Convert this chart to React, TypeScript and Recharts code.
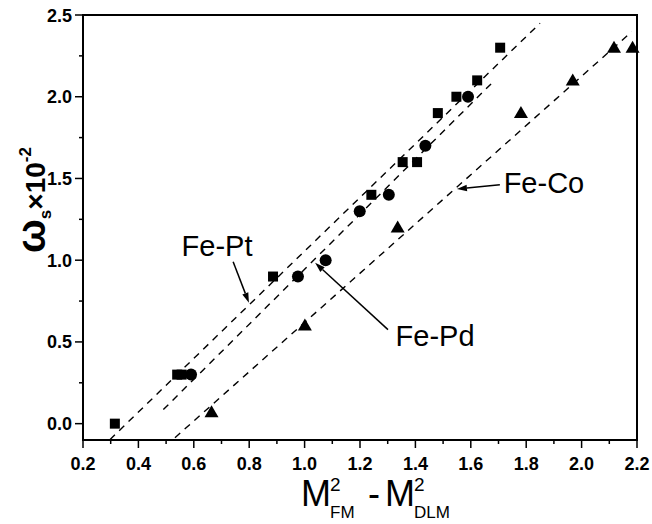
import {
  ReferenceArea,
  ReferenceDot,
  ReferenceLine,
  Scatter,
  ScatterChart,
  XAxis,
  YAxis,
} from "recharts";

const fePt = [
  { x: 0.315, y: 0.0 },
  { x: 0.54, y: 0.3 },
  { x: 0.556, y: 0.3 },
  { x: 0.886, y: 0.9 },
  { x: 1.241, y: 1.4 },
  { x: 1.354, y: 1.6 },
  { x: 1.406, y: 1.6 },
  { x: 1.481, y: 1.9 },
  { x: 1.548, y: 2.0 },
  { x: 1.623, y: 2.1 },
  { x: 1.706, y: 2.3 },
];

const fePd = [
  { x: 0.59, y: 0.3 },
  { x: 0.976, y: 0.9 },
  { x: 1.076, y: 1.0 },
  { x: 1.199, y: 1.3 },
  { x: 1.304, y: 1.4 },
  { x: 1.436, y: 1.7 },
  { x: 1.59, y: 2.0 },
];

const feCo = [
  { x: 0.664, y: 0.07 },
  { x: 1.001, y: 0.6 },
  { x: 1.336, y: 1.2 },
  { x: 1.781, y: 1.9 },
  { x: 1.968, y: 2.1 },
  { x: 2.117, y: 2.3 },
  { x: 2.184, y: 2.3 },
];

// dashed fit lines (end points)
const fitPt = [
  { x: 0.297, y: -0.098 },
  { x: 1.85, y: 2.45 },
];
const fitPd = [
  { x: 0.49, y: 0.086 },
  { x: 1.68, y: 2.09 },
];
const fitCo = [
  { x: 0.532, y: -0.086 },
  { x: 2.181, y: 2.398 },
];

// annotation labels and arrows
const labelNames = ["Fe-Pt", "Fe-Pd", "Fe-Co"];
const labelAt = [
  { x: 0.684, y: 1.027 },
  { x: 1.471, y: 0.477 },
  { x: 1.864, y: 1.412 },
];
const arrowFrom = [
  { x: 0.742, y: 0.99 },
  { x: 1.301, y: 0.575 },
  { x: 1.705, y: 1.461 },
];
const arrowTo = [
  { x: 0.799, y: 0.74 },
  { x: 1.038, y: 0.984 },
  { x: 1.55, y: 1.436 },
];

const xMajor = [0.2, 0.4, 0.6, 0.8, 1.0, 1.2, 1.4, 1.6, 1.8, 2.0, 2.2];
const xMinor = [0.3, 0.5, 0.7, 0.9, 1.1, 1.3, 1.5, 1.7, 1.9, 2.1];
const yMajor = [0.0, 0.5, 1.0, 1.5, 2.0, 2.5];
const yMinor = [0.25, 0.75, 1.25, 1.75, 2.25];

const FONT = "'Liberation Sans', Arial, sans-serif";

const XTick = (props: any) => {
  const { x, y, payload } = props;
  const major = xMajor.some((v) => Math.abs(v - payload.value) < 1e-6);
  return (
    <g>
      <line x1={x} x2={x} y1={y} y2={y + (major ? 8 : 4)} stroke="#000" strokeWidth={1.5} />
      {major && (
        <text x={x} y={y + 30} textAnchor="middle" fontFamily={FONT} fontWeight="bold" fontSize={18} fill="#000">
          {payload.value.toFixed(1)}
        </text>
      )}
    </g>
  );
};

const YTick = (props: any) => {
  const { x, y, payload } = props;
  const major = yMajor.some((v) => Math.abs(v - payload.value) < 1e-6);
  return (
    <g>
      <line x1={x} x2={x - (major ? 8 : 4)} y1={y} y2={y} stroke="#000" strokeWidth={1.5} />
      {major && (
        <text x={x - 11} y={y + 6.5} textAnchor="end" fontFamily={FONT} fontWeight="bold" fontSize={18} fill="#000">
          {payload.value.toFixed(1)}
        </text>
      )}
    </g>
  );
};

const Square = ({ cx, cy }: any) => <rect x={cx - 5} y={cy - 5} width={10} height={10} fill="#000" />;
const Circle = ({ cx, cy }: any) => <circle cx={cx} cy={cy} r={6} fill="#000" />;
const Triangle = ({ cx, cy }: any) => (
  <polygon points={`${cx},${cy - 7} ${cx - 7},${cy + 5} ${cx + 7},${cy + 5}`} fill="#000" />
);

const Arrow = (p: any) => {
  const { x1, y1, x2, y2 } = p;
  const a = Math.atan2(y2 - y1, x2 - x1);
  const len = 10;
  const w = 3.2;
  const bx = x2 - len * Math.cos(a);
  const by = y2 - len * Math.sin(a);
  const px = -Math.sin(a) * w;
  const py = Math.cos(a) * w;
  return (
    <g>
      <line x1={x1} y1={y1} x2={bx} y2={by} stroke="#000" strokeWidth={1.5} />
      <polygon points={`${x2},${y2} ${bx + px},${by + py} ${bx - px},${by - py}`} fill="#000" />
    </g>
  );
};

const XTitle = ({ viewBox }: any) => {
  const x0 = viewBox.x + 218;
  const y0 = viewBox.y + 66;
  return (
    <g fontFamily={FONT} fill="#000">
      <text x={x0} y={y0} fontSize={36}>M</text>
      <text x={x0 + 29} y={y0 - 15} fontSize={19}>2</text>
      <text x={x0 + 29} y={y0 + 12} fontSize={17}>FM</text>
      <text x={x0 + 67} y={y0} fontSize={36}>-</text>
      <text x={x0 + 84} y={y0} fontSize={36}>M</text>
      <text x={x0 + 113} y={y0 - 15} fontSize={19}>2</text>
      <text x={x0 + 113} y={y0 + 12} fontSize={17}>DLM</text>
    </g>
  );
};

const YTitle = () => (
  <text
    transform="translate(45,200) rotate(-90)"
    textAnchor="middle"
    fontFamily={FONT}
    fontWeight="bold"
    fill="#000"
  >
    <tspan fontSize={40}>ω</tspan>
    <tspan fontSize={17} dy={6}>s</tspan>
    <tspan fontSize={28} dy={-6}>×10</tspan>
    <tspan fontSize={17} dy={-14}>-2</tspan>
  </text>
);

export default function App() {
  return (
    <div style={{ position: "absolute", left: 0, top: 0, background: "#fff" }}>
      <ScatterChart width={652} height={524} margin={{ top: 15, right: 15, bottom: 0, left: 0 }}>
        <XAxis
          type="number"
          dataKey="x"
          domain={[0.2, 2.2]}
          ticks={[...xMajor, ...xMinor].sort((a, b) => a - b)}
          interval={0}
          tick={<XTick />}
          tickLine={false}
          tickSize={0}
          tickMargin={0}
          axisLine={{ stroke: "#000", strokeWidth: 2 }}
          height={84}
          label={<XTitle />}
        />
        <YAxis
          type="number"
          dataKey="y"
          domain={[-0.1, 2.5]}
          ticks={[...yMajor, ...yMinor].sort((a, b) => a - b)}
          interval={0}
          tick={<YTick />}
          tickLine={false}
          tickSize={0}
          tickMargin={0}
          axisLine={{ stroke: "#000", strokeWidth: 2 }}
          width={83}
          label={<YTitle />}
        />
        <ReferenceArea x1={0.2} x2={2.2} y1={-0.1} y2={2.5} fill="none" stroke="#000" strokeWidth={2} fillOpacity={0} />
        {[fitPt, fitPd, fitCo].map((seg, i) => (
          <ReferenceLine
            key={"fit" + i}
            segment={seg}
            stroke="#000"
            strokeWidth={1.4}
            strokeDasharray="7 6"
          />
        ))}
        {labelNames.map((name, i) => (
          <ReferenceLine key={"arr" + i} segment={[arrowFrom[i], arrowTo[i]]} shape={<Arrow />} />
        ))}
        {labelNames.map((name, i) => (
          <ReferenceDot
            key={"lab" + i}
            x={labelAt[i].x}
            y={labelAt[i].y}
            r={0}
            shape={(p: any) => (
              <text x={p.cx} y={p.cy} textAnchor="middle" fontFamily={FONT} fontSize={29} fill="#000">
                {name}
              </text>
            )}
          />
        ))}
        <Scatter data={fePt} shape={<Square />} isAnimationActive={false} />
        <Scatter data={fePd} shape={<Circle />} isAnimationActive={false} />
        <Scatter data={feCo} shape={<Triangle />} isAnimationActive={false} />
      </ScatterChart>
    </div>
  );
}
